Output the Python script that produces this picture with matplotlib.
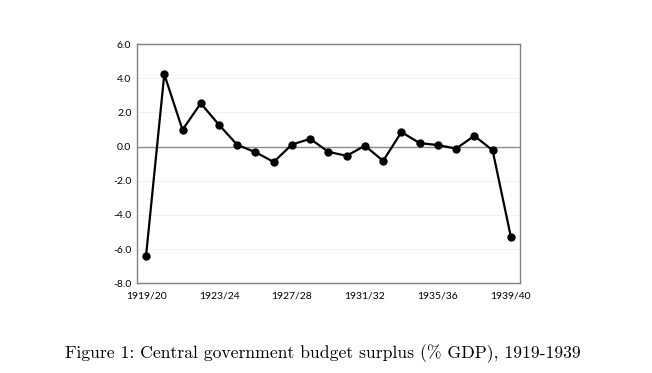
import matplotlib
matplotlib.use("Agg")
import matplotlib.pyplot as plt
import numpy as np

years = ["1919/20", "1920/21", "1921/22", "1922/23", "1923/24", "1924/25", "1925/26",
         "1926/27", "1927/28", "1928/29", "1929/30", "1930/31", "1931/32", "1932/33",
         "1933/34", "1934/35", "1935/36", "1936/37", "1937/38", "1938/39", "1939/40"]
surplus = [-6.4, 4.23, 0.98, 2.53, 1.27, 0.1, -0.33, -0.9, 0.12, 0.45, -0.31,
           -0.54, 0.05, -0.84, 0.85, 0.2, 0.09, -0.12, 0.63, -0.22, -5.28]
yticks = [-8.0, -6.0, -4.0, -2.0, 0.0, 2.0, 4.0, 6.0]
caption = "Figure 1: Central government budget surplus (% GDP), 1919-1939"

fig = plt.figure(figsize=(6.52, 3.73), dpi=100)
ax = fig.add_axes([0.210, 0.2405, 0.5875, 0.6415])

x = np.arange(len(years))
for yv in yticks:
    if yv == 0.0:
        ax.axhline(yv, color="#8c8c8c", lw=1.0, zorder=1)
    else:
        ax.axhline(yv, color="#efefef", lw=0.6, zorder=0)

ax.plot(x, surplus, color="black", lw=1.6, marker="o", markersize=5, zorder=3)

ax.set_xlim(-0.5, len(years) - 0.5)
ax.set_ylim(-8.0, 6.0)
ax.set_yticks(yticks)
ax.set_yticklabels([f"{v:.1f}" for v in yticks], fontfamily="Lato", fontsize=7.5)
ticks = x[::4]
ax.set_xticks(ticks)
ax.set_xticklabels([years[i] for i in ticks], fontfamily="Lato", fontsize=7.5)
ax.tick_params(axis="both", length=0, pad=4, colors="black")
ax.tick_params(axis="x", pad=6)
for s in ax.spines.values():
    s.set_color("#808080")
    s.set_linewidth(1.0)

fig.text(0.495, 0.053, caption, ha="center", va="center", fontfamily="cmr10", fontsize=12.7)

fig.savefig("out.png", dpi=100)
